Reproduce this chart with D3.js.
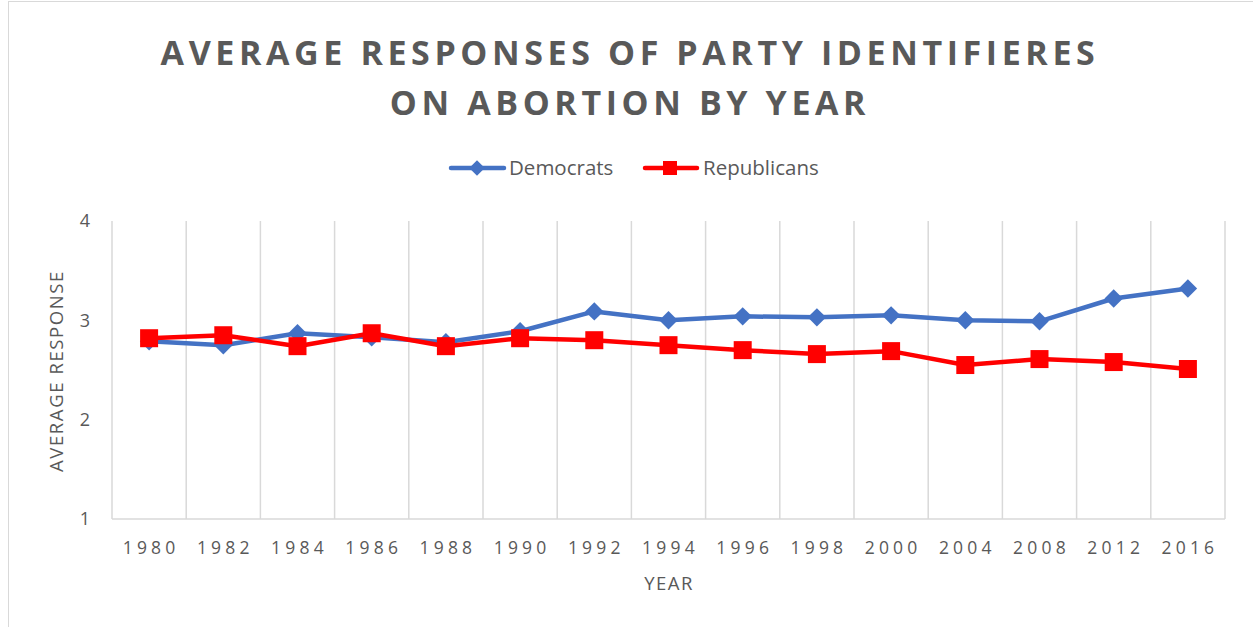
<!DOCTYPE html>
<html><head><meta charset="utf-8">
<script src="https://cdn.jsdelivr.net/npm/d3@7"></script>
<style>body{margin:0;background:#fff;} svg{display:block;}</style>
</head><body>
<svg id="c" width="1253" height="627"></svg>
<script>
const years = ["1980","1982","1984","1986","1988","1990","1992","1994","1996","1998","2000","2004","2008","2012","2016"];
const democrats = [2.79,2.75,2.87,2.83,2.78,2.89,3.09,3.00,3.04,3.03,3.05,3.00,2.99,3.22,3.32];
const republicans = [2.82,2.85,2.74,2.87,2.74,2.82,2.80,2.75,2.70,2.66,2.69,2.55,2.61,2.58,2.51];
const yTicks = [1,2,3,4];
const titleLines = ["AVERAGE RESPONSES OF PARTY IDENTIFIERES","ON ABORTION BY YEAR"];

const svg = d3.select("#c");
const font = "'Open Sans', 'Noto Sans', sans-serif";
svg.append("rect").attr("x",8.5).attr("y",1.5).attr("width",1260).attr("height",640)
  .attr("fill","#fff").attr("stroke","#d9d9d9");

const m = {l:112, r:1225, t:221, b:519};
const x = d3.scaleBand().domain(years).range([m.l,m.r]);
const y = d3.scaleLinear().domain([1,4]).range([m.b,m.t]);

// title
svg.append("g").selectAll("text").data(titleLines).join("text")
  .attr("x",630).attr("y",(d,i)=>65+i*50).attr("text-anchor","middle")
  .attr("font-family",font).attr("font-weight","bold").attr("font-size",34)
  .attr("letter-spacing",4.6).attr("fill","#595959").text(d=>d);

// gridlines (category boundaries)
const bounds = years.map(d=>x(d)).concat([m.r]);
svg.append("g").selectAll("line").data(bounds).join("line")
  .attr("x1",d=>d).attr("x2",d=>d).attr("y1",m.t).attr("y2",m.b)
  .attr("stroke","#d9d9d9").attr("stroke-width",1.5);
svg.append("line").attr("x1",m.l).attr("x2",m.r).attr("y1",m.b).attr("y2",m.b)
  .attr("stroke","#d9d9d9").attr("stroke-width",1.5);

// y axis labels
const yAxis = d3.axisLeft(y).tickValues(yTicks).tickSize(0).tickPadding(22).tickFormat(d3.format("d"));
const ya = svg.append("g").attr("transform",`translate(${m.l},0)`).call(yAxis);
ya.select(".domain").remove();
ya.selectAll("text").attr("font-family",font).attr("font-size",18).attr("fill","#595959");

// x axis labels
const xAxis = d3.axisBottom(x).tickSize(0).tickPadding(23);
const xa = svg.append("g").attr("transform",`translate(0,${m.b})`).call(xAxis);
xa.select(".domain").remove();
xa.selectAll("text").attr("font-family",font).attr("font-size",17.5).attr("letter-spacing",4.2)
  .attr("dx",2).attr("fill","#595959");

// axis titles
svg.append("text").attr("x",669).attr("y",590).attr("text-anchor","middle")
  .attr("font-family",font).attr("font-size",18.5).attr("letter-spacing",1.5).attr("fill","#595959").text("YEAR");
svg.append("text").attr("transform","translate(63,371) rotate(-90)").attr("text-anchor","middle")
  .attr("font-family",font).attr("font-size",18.5).attr("letter-spacing",1.6).attr("fill","#595959").text("AVERAGE RESPONSE");

const cx = d => x(d)+x.bandwidth()/2;
const line = d3.line().x(d=>cx(d.year)).y(d=>y(d.v));
const blue = "#4472c4", red = "#ff0000";
const dem = years.map((yr,i)=>({year:yr,v:democrats[i]}));
const rep = years.map((yr,i)=>({year:yr,v:republicans[i]}));

svg.append("path").datum(dem).attr("d",line).attr("fill","none").attr("stroke",blue).attr("stroke-width",4.5).attr("stroke-linejoin","round");
const diamond = d3.symbol().type(d3.symbolSquare).size(170);
svg.append("g").selectAll("path").data(dem).join("path")
  .attr("d",diamond()).attr("transform",d=>`translate(${cx(d.year)},${y(d.v)}) rotate(45)`).attr("fill",blue);

svg.append("path").datum(rep).attr("d",line).attr("fill","none").attr("stroke",red).attr("stroke-width",4.5).attr("stroke-linejoin","round");
svg.append("g").selectAll("rect").data(rep).join("rect")
  .attr("x",d=>cx(d.year)-9).attr("y",d=>y(d.v)-9).attr("width",18).attr("height",18).attr("fill",red);

// legend
const lg = svg.append("g");
lg.append("line").attr("x1",451).attr("x2",504).attr("y1",168).attr("y2",168).attr("stroke",blue).attr("stroke-width",4.5).attr("stroke-linecap","round");
lg.append("path").attr("d",d3.symbol().type(d3.symbolSquare).size(120)()).attr("transform","translate(477,168) rotate(45)").attr("fill",blue);
lg.append("text").attr("x",509).attr("y",175).attr("font-family",font).attr("font-size",20.5).attr("fill","#595959").text("Democrats");
lg.append("line").attr("x1",645).attr("x2",697).attr("y1",168).attr("y2",168).attr("stroke",red).attr("stroke-width",4.5).attr("stroke-linecap","round");
lg.append("rect").attr("x",663).attr("y",161).attr("width",14).attr("height",14).attr("fill",red);
lg.append("text").attr("x",703).attr("y",175).attr("font-family",font).attr("font-size",20.5).attr("fill","#595959").text("Republicans");
</script>
</body></html>
